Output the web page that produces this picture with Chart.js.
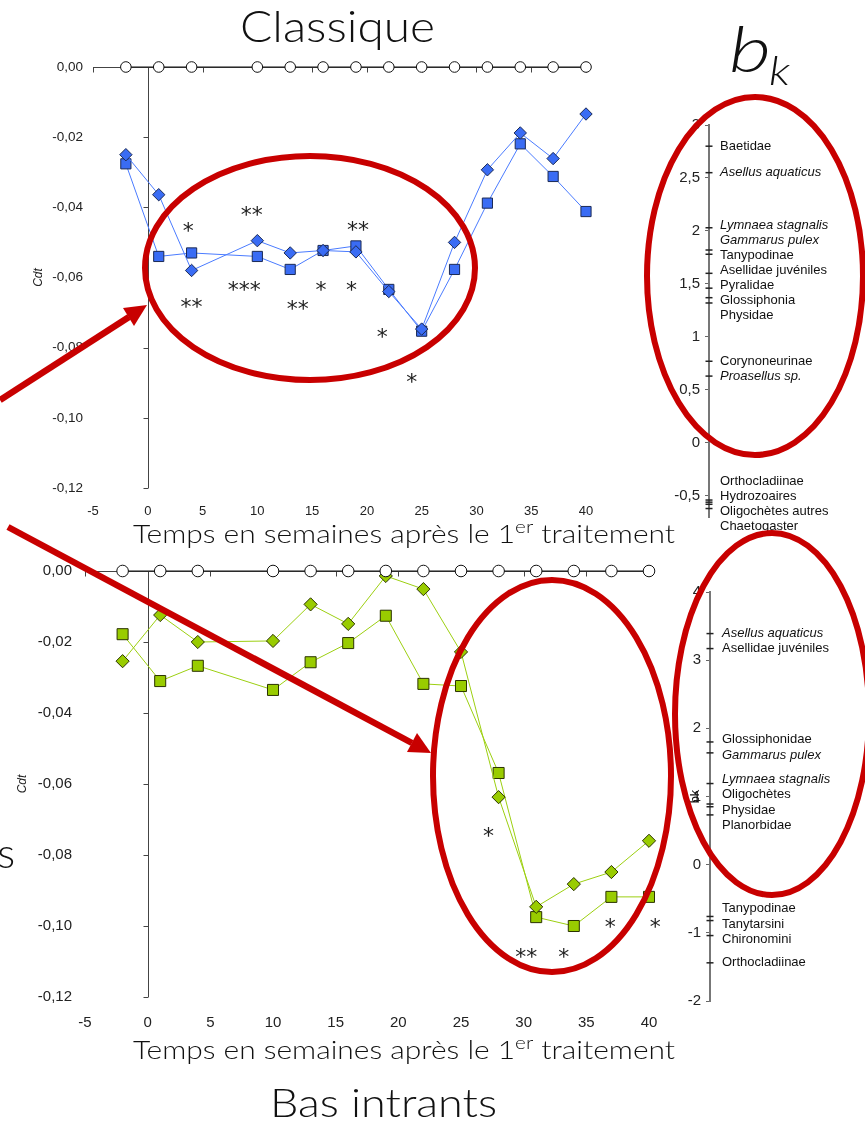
<!DOCTYPE html>
<html>
<head>
<meta charset="utf-8">
<script src="https://cdn.jsdelivr.net/npm/chart.js@4.4.1/dist/chart.umd.min.js"></script>
<style>
  html, body { margin: 0; padding: 0; background: #fff; }
  #page { position: relative; width: 865px; height: 1123px; overflow: hidden; background: #fff; }
  canvas { position: absolute; }
  svg { position: absolute; left: 0; top: 0; }
  .deco { font-family: "Lato", "Open Sans", sans-serif; font-weight: 300; fill: #111; }
</style>
</head>
<body>
<div id="page">
  <canvas id="cTop" width="620" height="530" style="left:0;top:0"></canvas>
  <canvas id="cBot" width="680" height="520" style="left:0;top:540px"></canvas>
  <canvas id="bkTop" width="225" height="440" style="left:640px;top:100px"></canvas>
  <canvas id="bkBot" width="225" height="460" style="left:640px;top:560px"></canvas>
  <svg width="865" height="1123" viewBox="0 0 865 1123">
    <!-- panel titles and axis captions -->
    <text class="deco" x="240" y="42" font-size="44" textLength="195" lengthAdjust="spacingAndGlyphs">Classique</text>
    <text class="deco" x="270" y="1117" font-size="40" textLength="227" lengthAdjust="spacingAndGlyphs">Bas intrants</text>

    <text class="deco" x="133" y="543" font-size="26" textLength="542" lengthAdjust="spacingAndGlyphs">Temps en semaines après le 1<tspan font-size="18" dy="-10">er</tspan><tspan dy="10"> traitement</tspan></text>
    <text class="deco" x="133" y="1059" font-size="26" textLength="542" lengthAdjust="spacingAndGlyphs">Temps en semaines après le 1<tspan font-size="18" dy="-10">er</tspan><tspan dy="10"> traitement</tspan></text>

    <text class="deco" x="729" y="72" font-size="64" font-style="italic" textLength="42" lengthAdjust="spacingAndGlyphs">b</text>
    <text class="deco" x="769" y="85" font-size="40" font-style="italic" textLength="21" lengthAdjust="spacingAndGlyphs">k</text>

    <text class="deco" x="15" y="868" font-size="42" text-anchor="end">s</text>

    <!-- red highlight ellipses -->
    <g fill="none" stroke="#c80000" stroke-width="6">
      <ellipse cx="310" cy="268" rx="165" ry="112"/>
      <ellipse cx="755" cy="276" rx="108" ry="179"/>
      <ellipse cx="552" cy="776" rx="119" ry="196"/>
      <ellipse cx="772" cy="714" rx="97" ry="181"/>
    </g>
    <!-- arrows -->
    <g stroke="#c80000" stroke-width="6.5" fill="#c80000">
      <line x1="0" y1="400" x2="129" y2="317"/>
      <polygon stroke="none" points="147,305 123,308 134,326"/>
      <line x1="8" y1="527" x2="412" y2="743"/>
      <polygon stroke="none" points="431,753 417,733 407,752"/>
    </g>
  </svg>
</div>
<script>
// ---- sampling weeks (weeks after first treatment) ----
const weeks = [-2, 1, 4, 10, 13, 16, 19, 22, 25, 28, 31, 34, 37, 40];

// control reference (Cdt = 0)
const controlCdt = [0, 0, 0, 0, 0, 0, 0, 0, 0, 0, 0, 0, 0, 0];

// "Classique" treatment
const classiqueDiamond = [-0.0250, -0.0364, -0.0580, -0.0495, -0.0530, -0.0523, -0.0527, -0.0640, -0.0747, -0.0500, -0.0293, -0.0188, -0.0261, -0.0134];
const classiqueSquare  = [-0.0276, -0.0540, -0.0530, -0.0540, -0.0577, -0.0523, -0.0510, -0.0634, -0.0753, -0.0577, -0.0388, -0.0219, -0.0312, -0.0412];

// "Bas intrants" treatment
const basDiamond = [-0.0254, -0.0124, -0.0200, -0.0197, -0.0094, -0.0149, -0.0014, -0.0051, -0.0228, -0.0637, -0.0946, -0.0882, -0.0848, -0.0760];
const basSquare  = [-0.0178, -0.0310, -0.0267, -0.0335, -0.0257, -0.0203, -0.0126, -0.0318, -0.0324, -0.0569, -0.0975, -0.1000, -0.0918, -0.0918];

// significance marks (week, Cdt, stars)
const starWeekTop = [3.7, 9.5, 19.2, 8.8, 15.8, 18.6, 4.0, 13.7, 21.4, 24.1];
const starCdtTop  = [-0.0449, -0.0404, -0.0447, -0.0617, -0.0617, -0.0617, -0.0665, -0.0670, -0.0750, -0.0878];
const starTextTop = ['*', '**', '**', '***', '*', '*', '**', '**', '*', '*'];

const starWeekBot = [27.2, 30.2, 33.2, 36.9, 40.5];
const starCdtBot  = [-0.0727, -0.1068, -0.1068, -0.0983, -0.0983];
const starTextBot = ['*', '**', '*', '*', '*'];

// taxon weights b_k
const taxaTop = ['Baetidae', 'Asellus aquaticus', 'Lymnaea stagnalis', 'Gammarus pulex', 'Tanypodinae',
  'Asellidae juvéniles', 'Pyralidae', 'Glossiphonia', 'Physidae', 'Corynoneurinae', 'Proasellus sp.',
  'Orthocladiinae', 'Hydrozoaires', 'Oligochètes autres', 'Chaetogaster'];
const bkTop = [2.80, 2.55, 2.03, 1.82, 1.78, 1.60, 1.46, 1.37, 1.32, 0.77, 0.63, -0.54, -0.56, -0.58, -0.62];

const taxaBot = ['Asellus aquaticus', 'Asellidae juvéniles', 'Glossiphonidae', 'Gammarus pulex',
  'Lymnaea stagnalis', 'Oligochètes', 'Physidae', 'Planorbidae', 'Tanypodinae', 'Tanytarsini',
  'Chironomini', 'Orthocladiinae'];
const bkBot = [3.39, 3.17, 1.80, 1.64, 1.19, 0.89, 0.85, 0.73, -0.76, -0.82, -1.04, -1.44];

// Latin species names are set in italics
const speciesNames = ['Asellus aquaticus', 'Lymnaea stagnalis', 'Gammarus pulex', 'Proasellus sp.'];

// ---------------------------------------------------------------
const pts = (xs, ys) => xs.map((x, i) => ({ x: x, y: ys[i] }));
const fmtCdt = v => Math.abs(v) < 1e-9 ? '0,00' : v.toFixed(2).replace('.', ',');
const fmtBk = v => {
  if (Math.abs(v) < 1e-9) return '0';
  return (Math.round(v * 100) / 100).toString().replace('.', ',');
};

// axis lines crossing at (0,0) with their tick marks
const crossAxes = {
  id: 'crossAxes',
  beforeDatasetsDraw(chart, args, o) {
    const { ctx } = chart;
    const xs = chart.scales.x, ys = chart.scales.y;
    const x0 = Math.round(xs.getPixelForValue(0)) + 0.5;
    const y0 = Math.round(ys.getPixelForValue(0)) + 0.5;
    ctx.save();
    ctx.strokeStyle = '#444';
    ctx.lineWidth = 1;
    ctx.beginPath();
    ctx.moveTo(x0, ys.getPixelForValue(0));
    ctx.lineTo(x0, ys.getPixelForValue(ys.min));
    for (let v = 0; v >= ys.min - 1e-9; v -= 0.02) {
      const py = Math.round(ys.getPixelForValue(v)) + 0.5;
      ctx.moveTo(x0 - 5, py); ctx.lineTo(x0, py);
    }
    ctx.moveTo(xs.getPixelForValue(xs.min), y0);
    ctx.lineTo(xs.getPixelForValue(xs.max), y0);
    for (let w = xs.min; w <= xs.max + 1e-9; w += 5) {
      const px = Math.round(xs.getPixelForValue(w)) + 0.5;
      ctx.moveTo(px, y0); ctx.lineTo(px, y0 + 5);
    }
    ctx.stroke();
    ctx.restore();
  }
};

// significance stars
const starMarks = {
  id: 'starMarks',
  afterDatasetsDraw(chart, args, o) {
    const { ctx } = chart;
    const xs = chart.scales.x, ys = chart.scales.y;
    ctx.save();
    ctx.fillStyle = '#222';
    ctx.font = o.size + 'px "DejaVu Sans"';
    ctx.textAlign = 'center';
    ctx.textBaseline = 'alphabetic';
    o.weeks.forEach((w, i) => {
      ctx.fillText(o.texts[i], xs.getPixelForValue(w), ys.getPixelForValue(o.cdt[i]) + o.size * 0.62);
    });
    ctx.restore();
  }
};

function cdtChart(id, cfg) {
  return new Chart(document.getElementById(id), {
    type: 'scatter',
    data: {
      datasets: [
        {
          data: pts(weeks, controlCdt), showLine: true, order: 0, clip: false,
          borderColor: '#111', borderWidth: 1,
          pointStyle: 'circle', pointRadius: cfg.circleR,
          pointBackgroundColor: '#fff', pointBorderColor: '#111', pointBorderWidth: 1
        },
        {
          data: pts(weeks, cfg.diamond), showLine: true, order: 1, clip: false,
          borderColor: cfg.line, borderWidth: 1,
          pointStyle: 'rectRot', pointRadius: cfg.diamondR,
          pointBackgroundColor: cfg.fill, pointBorderColor: cfg.edge, pointBorderWidth: 1
        },
        {
          data: pts(weeks, cfg.square), showLine: true, order: 2, clip: false,
          borderColor: cfg.line, borderWidth: 1,
          pointStyle: 'rect', pointRadius: cfg.squareR,
          pointBackgroundColor: cfg.fill, pointBorderColor: cfg.edge, pointBorderWidth: 1
        }
      ]
    },
    options: {
      responsive: false, animation: false, events: [],
      layout: { padding: { top: cfg.padTop, right: cfg.padRight, left: 0, bottom: 0 } },
      plugins: {
        legend: { display: false }, tooltip: { enabled: false },
        starMarks: { weeks: cfg.starWeek, cdt: cfg.starCdt, texts: cfg.starText, size: 22 }
      },
      scales: {
        x: {
          type: 'linear', min: -5, max: 40,
          grid: { display: false, drawTicks: false }, border: { display: false },
          ticks: { stepSize: 5, padding: cfg.xPad, color: '#222', font: { family: 'Liberation Sans', size: cfg.xFont } },
          afterFit(s) { s.height = cfg.xHeight; }
        },
        y: {
          type: 'linear', min: -0.12, max: 0,
          grid: { display: false, drawTicks: false }, border: { display: false },
          ticks: { stepSize: 0.02, padding: cfg.yPad, color: '#222', callback: fmtCdt,
                   font: { family: 'Liberation Sans', size: cfg.yFont } },
          title: { display: true, text: 'Cdt', color: '#222',
                   font: { family: 'Liberation Sans', size: 12, style: 'italic' },
                   padding: { top: cfg.titlePad, bottom: 0 } },
          afterFit(s) { s.width = cfg.yWidth; }
        }
      }
    },
    plugins: [crossAxes, starMarks]
  });
}

cdtChart('cTop', {
  diamond: classiqueDiamond, square: classiqueSquare,
  fill: '#3a6cf4', edge: '#1b2a55', line: '#4a7bff',
  circleR: 5.3, diamondR: 6.2, squareR: 7.2,
  padTop: 67, padRight: 34, xHeight: 42, yWidth: 93,
  xPad: 16, yPad: 10, xFont: 13, yFont: 13.5, titlePad: 31,
  starWeek: starWeekTop, starCdt: starCdtTop, starText: starTextTop
});

cdtChart('cBot', {
  diamond: basDiamond, square: basSquare,
  fill: '#99cc00', edge: '#2b3300', line: '#9ccf10',
  circleR: 5.8, diamondR: 6.6, squareR: 7.8,
  padTop: 31, padRight: 31, xHeight: 63, yWidth: 85,
  xPad: 17, yPad: 13, xFont: 15, yFont: 15, titlePad: 15,
  starWeek: starWeekBot, starCdt: starCdtBot, starText: starTextBot
});

// ---- b_k axes with taxon labels ----
function spreadLabels(pix, gap) {
  // pix sorted ascending; groups of overlapping labels are centred on their mean
  let groups = pix.map(p => ({ sum: p, n: 1, start: p }));
  let merged = true;
  while (merged) {
    merged = false;
    for (let i = 0; i < groups.length - 1; i++) {
      const a = groups[i], b = groups[i + 1];
      if (a.start + a.n * gap > b.start + 1e-6) {
        const n = a.n + b.n, sum = a.sum + b.sum;
        groups.splice(i, 2, { sum: sum, n: n, start: sum / n - (n - 1) * gap / 2 });
        merged = true;
        break;
      }
    }
  }
  const out = [];
  groups.forEach(g => { for (let k = 0; k < g.n; k++) out.push(g.start + k * gap); });
  return out;
}

const taxonLabels = {
  id: 'taxonLabels',
  afterDraw(chart, args, o) {
    const { ctx, chartArea } = chart;
    const ys = chart.scales.y;
    const order = o.values.map((v, i) => i).sort((a, b) => o.values[b] - o.values[a]);
    const pix = order.map(i => ys.getPixelForValue(o.values[i]));
    const pos = spreadLabels(pix, o.gap);
    ctx.save();
    ctx.fillStyle = '#111';
    ctx.textAlign = 'left';
    ctx.textBaseline = 'middle';
    order.forEach((idx, k) => {
      const name = o.names[idx];
      const it = speciesNames.indexOf(name) >= 0 ? 'italic ' : '';
      ctx.font = it + o.size + 'px "Liberation Sans"';
      ctx.fillText(name, chartArea.left + o.dx, pos[k]);
    });
    if (o.title) {
      ctx.font = o.size + 'px "Liberation Sans"';
      ctx.textAlign = 'center';
      ctx.translate(chartArea.left - 15, (chartArea.top + chartArea.bottom) / 2);
      ctx.rotate(-Math.PI / 2);
      ctx.fillText(o.title, 0, 0);
    }
    ctx.restore();
  }
};

function bkChart(id, cfg) {
  return new Chart(document.getElementById(id), {
    type: 'scatter',
    data: {
      datasets: [{
        data: cfg.values.map(v => ({ x: 0, y: v })), clip: false,
        pointStyle: 'line', pointRadius: 3.5,
        pointBorderColor: '#222', pointBorderWidth: 1.5
      }]
    },
    options: {
      responsive: false, animation: false, events: [],
      layout: { padding: { top: cfg.padTop, bottom: cfg.padBottom, left: 0, right: 0 } },
      plugins: {
        legend: { display: false }, tooltip: { enabled: false },
        taxonLabels: { names: cfg.names, values: cfg.values, gap: cfg.gap, size: 13, dx: cfg.dx, title: cfg.title }
      },
      scales: {
        x: { type: 'linear', display: false, min: 0, max: 1 },
        y: {
          type: 'linear', min: cfg.min, max: cfg.max,
          afterBuildTicks(s) {
            s.ticks = s.ticks.filter(t => Math.abs(t.value / cfg.step - Math.round(t.value / cfg.step)) < 1e-6);
          },
          grid: { display: true, drawOnChartArea: false, drawTicks: true, tickLength: 4, color: '#666', lineWidth: 1 },
          border: { display: true, color: '#777', width: 2 },
          ticks: { stepSize: cfg.step, padding: 5, color: '#222', callback: fmtBk,
                   font: { family: 'Liberation Sans', size: 15 } },
          afterFit(s) { s.width = cfg.yWidth; }
        }
      }
    },
    plugins: [taxonLabels]
  });
}

bkChart('bkTop', {
  names: taxaTop, values: bkTop, min: -0.7, max: 3, step: 0.5,
  padTop: 25, padBottom: 23, yWidth: 69, gap: 15, dx: 11, title: null
});

bkChart('bkBot', {
  names: taxaBot, values: bkBot, min: -2, max: 4, step: 1,
  padTop: 32, padBottom: 19, yWidth: 70, gap: 15.5, dx: 12, title: 'bk'
});
</script>
</body>
</html>
